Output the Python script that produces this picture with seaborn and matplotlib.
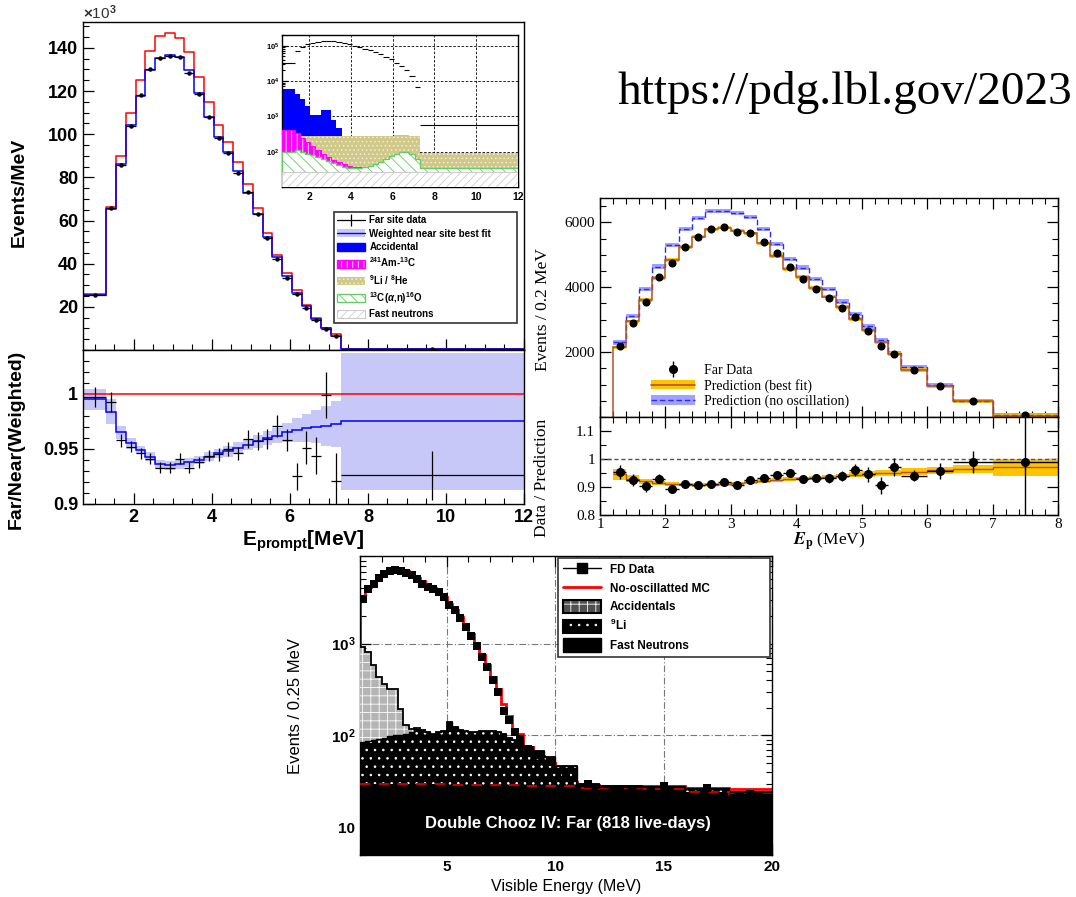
import matplotlib
matplotlib.use("Agg")
import matplotlib.pyplot as plt
import numpy as np
import seaborn as sns
from matplotlib.lines import Line2D
from matplotlib.patches import Patch
from matplotlib.ticker import MultipleLocator, LogLocator, NullFormatter

# ---------------- Daya Bay (top left) ----------------
db_edges = [0.7, 1.3, 1.55, 1.8, 2.05, 2.3, 2.55, 2.8, 3.05, 3.3, 3.55, 3.8, 4.05,
            4.3, 4.55, 4.8, 5.05, 5.3, 5.55, 5.8, 6.05, 6.3, 6.55, 6.8, 7.05, 7.3, 12.0]
# events / MeV in units of 10^3
db_far = [25.5, 66.0, 85.5, 104.0, 118.3, 130.3, 135.3, 136.3, 136.0, 128.5, 118.7, 107.8, 98.3,
          91.2, 82.2, 73.0, 62.8, 52.0, 42.3, 33.5, 26.0, 19.5, 14.0, 9.7, 6.3, 0.4]
db_near = [25.7, 65.2, 86.2, 104.3, 117.6, 129.6, 135.2, 136.8, 135.7, 129.6, 119.2, 108.1, 98.9,
           91.6, 82.8, 72.9, 62.9, 52.5, 43.0, 34.2, 26.6, 20.3, 14.2, 10.0, 6.5, 0.4]
db_noosc = [26.1, 66.4, 89.7, 110.0, 125.3, 138.6, 145.7, 146.7, 144.6, 138.0, 126.5, 115.0, 104.3,
            96.3, 87.0, 76.7, 65.7, 54.2, 44.2, 35.6, 28.0, 20.8, 14.6, 10.3, 7.3, 0.5]
# far / near ratio
db_ratio = [0.997, 0.993, 0.958, 0.952, 0.946, 0.941, 0.933, 0.933, 0.941, 0.933, 0.938, 0.944, 0.945,
            0.950, 0.946, 0.959, 0.957, 0.959, 0.971, 0.958, 0.925, 0.951, 0.944, 0.999, 0.921, 0.926]
db_ratio_err = [0.009, 0.009, 0.006, 0.005, 0.005, 0.005, 0.005, 0.005, 0.005, 0.005, 0.005, 0.005, 0.006,
                0.006, 0.006, 0.008, 0.008, 0.009, 0.010, 0.010, 0.012, 0.015, 0.017, 0.021, 0.025, 0.022]
db_pred_ratio = [0.995, 0.984, 0.965, 0.955, 0.949, 0.943, 0.936, 0.935, 0.936, 0.938, 0.940, 0.943, 0.946,
                 0.948, 0.951, 0.954, 0.957, 0.960, 0.962, 0.965, 0.967, 0.969, 0.970, 0.971, 0.973, 0.975]
db_pred_band = [0.010, 0.011, 0.006, 0.005, 0.004, 0.004, 0.004, 0.004, 0.004, 0.004, 0.004, 0.004, 0.004,
                0.005, 0.005, 0.005, 0.006, 0.006, 0.007, 0.009, 0.011, 0.013, 0.015, 0.018, 0.021, 0.062]
db_unity = 1.0

# inset (log scale) with backgrounds
inset_far = [3.2e4, 7.1e4, 9.0e4, 1.09e5, 1.2e5, 1.3e5, 1.38e5, 1.38e5, 1.35e5, 1.28e5, 1.19e5, 1.09e5, 1.0e5,
             9.0e4, 8.2e4, 7.5e4, 6.5e4, 5.7e4, 4.9e4, 4.2e4, 3.3e4, 2.7e4, 2.0e4, 1.4e4, 6.6e3, 5.8e2]
inset_acc = [5900, 4400, 3100, 1900, 1070, 1070, 1550, 1550, 800, 480, 275, 260, 250,
             10, 10, 10, 10, 10, 10, 10, 10, 10, 10, 10, 10, 10]
inset_li = [330, 330, 275, 275, 275, 275, 275, 275, 275, 275, 270, 270, 270,
            270, 270, 270, 270, 275, 280, 285, 290, 290, 290, 285, 280, 93]
inset_amc = [400, 330, 250, 190, 145, 110, 85, 70, 58, 50, 44, 40, 37,
             36, 35, 10, 10, 10, 10, 10, 10, 10, 10, 10, 10, 10]
inset_can = [100, 108, 100, 88, 80, 72, 62, 55, 48, 42, 38, 35, 34,
             34, 36, 40, 45, 52, 62, 75, 88, 100, 100, 85, 62, 35]
inset_fn = [26, 26, 26, 26, 26, 26, 26, 26, 26, 26, 26, 26, 26,
            26, 26, 26, 26, 26, 26, 26, 26, 26, 26, 26, 26, 26]
inset_floor = 10

# ---------------- RENO (right) ----------------
reno_edges = [1.2, 1.4, 1.6, 1.8, 2.0, 2.2, 2.4, 2.6, 2.8, 3.0, 3.2, 3.4, 3.6, 3.8, 4.0, 4.2,
              4.4, 4.6, 4.8, 5.0, 5.2, 5.4, 5.6, 6.0, 6.4, 7.0, 8.0]
reno_data = [2195, 2892, 3559, 4308, 4759, 5251, 5559, 5795, 5846, 5713, 5682, 5385, 5046,
             4636, 4256, 3949, 3662, 3354, 3067, 2656, 2174, 1938, 1456, 964, 482, 51]
reno_fit = [2144, 2944, 3610, 4277, 4841, 5231, 5559, 5785, 5836, 5744, 5662, 5354, 4964,
            4554, 4308, 3969, 3713, 3385, 3015, 2667, 2297, 1938, 1456, 944, 482, 45]
reno_noosc = [2297, 3118, 3938, 4636, 5303, 5785, 6123, 6349, 6349, 6297, 6154, 5785, 5333,
              4872, 4605, 4246, 3938, 3559, 3179, 2790, 2379, 1969, 1528, 995, 482, 48]
reno_fit_band = 55
reno_noosc_band = 65
reno_ratio = [0.953, 0.925, 0.902, 0.930, 0.894, 0.912, 0.906, 0.910, 0.918, 0.906, 0.925, 0.933, 0.943,
              0.949, 0.927, 0.931, 0.931, 0.939, 0.961, 0.945, 0.906, 0.971, 0.940, 0.957, 0.989, 0.989]
reno_ratio_err = [0.025, 0.020, 0.020, 0.015, 0.012, 0.010, 0.010, 0.010, 0.010, 0.010, 0.010, 0.012, 0.012,
                  0.012, 0.013, 0.014, 0.015, 0.018, 0.022, 0.027, 0.030, 0.033, 0.020, 0.028, 0.040, 0.200]
reno_fit_ratio = [0.945, 0.930, 0.920, 0.915, 0.910, 0.908, 0.907, 0.908, 0.910, 0.913, 0.917, 0.921, 0.925,
                  0.928, 0.931, 0.933, 0.936, 0.940, 0.943, 0.946, 0.949, 0.951, 0.955, 0.960, 0.965, 0.970]
reno_fit_ratio_band = [0.020, 0.012, 0.010, 0.008, 0.007, 0.006, 0.006, 0.006, 0.006, 0.006, 0.006, 0.006, 0.006,
                       0.006, 0.006, 0.007, 0.007, 0.008, 0.009, 0.010, 0.010, 0.011, 0.012, 0.013, 0.015, 0.030]
reno_unity = 1.0

# ---------------- Double Chooz (bottom) ----------------
dc_edges = [1.0, 1.25, 1.5, 1.75, 2.0, 2.25, 2.5, 2.75, 3.0, 3.25, 3.5, 3.75, 4.0, 4.25, 4.5, 4.75,
            5.0, 5.25, 5.5, 5.75, 6.0, 6.25, 6.5, 6.75, 7.0, 7.25, 7.5, 7.75, 8.0, 8.25, 8.5,
            9.0, 9.5, 10.0, 11.0, 12.0, 14.0, 16.0, 18.0, 20.0]
dc_data = [3100, 3980, 4500, 5250, 5800, 6200, 6350, 6200, 5900, 5560, 5000, 4500, 4150, 3980, 3650,
           3240, 2660, 2300, 1910, 1520, 1210, 940, 715, 557, 400, 300, 187, 148, 110, 92,
           72, 62, 52, 35, 30, 26, 28, 27, 23]
dc_mc = [3200, 4150, 4700, 5400, 6000, 6400, 6600, 6450, 6150, 5750, 5250, 4750, 4300, 4000, 3650,
         3200, 2700, 2350, 1950, 1580, 1260, 990, 760, 590, 430, 320, 220, 165, 115, 105,
         75, 60, 50, 31, 29, 28, 28, 27, 26]
# stacked tops: fast neutrons, + 9Li, + accidentals
dc_fn = [30, 30, 30, 30, 30, 30, 30, 30, 30, 30, 30, 30, 30, 30, 30, 30,
         29, 29, 29, 29, 29, 29, 29, 29, 29, 29, 29, 29, 29, 29,
         28, 28, 28, 28, 27, 26, 26, 24, 23]
dc_li = [85, 88, 90, 92, 95, 98, 100, 100, 105, 110, 118, 115, 108, 105, 110,
         113, 140, 125, 115, 112, 110, 110, 113, 113, 112, 108, 105, 95, 90, 88,
         75, 67, 58, 47, 30, 28, 27.5, 26, 24]
dc_acc = [920, 810, 580, 430, 365, 322, 322, 195, 130, 118, 122, 115, 108, 105, 110,
          113, 140, 125, 115, 112, 110, 110, 113, 113, 112, 108, 105, 95, 90, 88,
          75, 67, 58, 47, 30, 28, 27.5, 26, 24]
dc_floor = 1.0

sns.set_style("ticks", {"xtick.direction": "in", "ytick.direction": "in",
                        "axes.edgecolor": "black", "text.color": "black",
                        "axes.labelcolor": "black", "xtick.color": "black", "ytick.color": "black"})
plt.rcParams.update({
    "font.family": ["Liberation Sans", "DejaVu Sans"],
    "font.weight": "bold",
    "axes.labelweight": "bold",
    "mathtext.fontset": "custom",
    "mathtext.rm": "Liberation Sans",
    "mathtext.bf": "Liberation Sans:bold",
    "mathtext.it": "Liberation Sans:italic",
    "hatch.linewidth": 0.6,
    "axes.linewidth": 1.0,
    "xtick.major.size": 8, "ytick.major.size": 8,
    "xtick.minor.size": 4, "ytick.minor.size": 4,
    "xtick.major.width": 0.9, "ytick.major.width": 0.9,
    "xtick.minor.width": 0.8, "ytick.minor.width": 0.8,
})

W, H = 1076, 897


def box(left, top, right, bottom):
    return [left / W, 1 - bottom / H, (right - left) / W, (bottom - top) / H]


def bin_centers(edges):
    e = np.asarray(edges, dtype=float)
    return (e[:-1] + e[1:]) / 2, (e[1:] - e[:-1]) / 2


fig = plt.figure(figsize=(W / 100, H / 100), dpi=100)

# ======== Daya Bay upper ========
ax = fig.add_axes(box(83, 22, 524, 350))
x, hw = bin_centers(db_edges)
sns.histplot(x=x, weights=db_noosc, bins=db_edges, element="step", fill=False,
             color="#ff0000", linewidth=1.1, ax=ax)
sns.histplot(x=x, weights=db_near, bins=db_edges, element="step", fill=False,
             color="#0000ff", linewidth=1.1, ax=ax)
ax.errorbar(x, db_far, xerr=hw, fmt="o", ms=2.2, color="k", elinewidth=0.9, capsize=0, zorder=4)
ax.set_xlim(0.7, 12)
ax.set_ylim(0, 152)
ax.set_yticks([20, 40, 60, 80, 100, 120, 140])
ax.yaxis.set_minor_locator(MultipleLocator(5))
ax.xaxis.set_major_locator(MultipleLocator(2))
ax.xaxis.set_minor_locator(MultipleLocator(0.5))
ax.tick_params(labelbottom=False, labelsize=13)
ax.set_xlabel("")
ax.set_ylabel("Events/MeV", fontsize=14)
ax.yaxis.set_label_coords(-0.125, 0.48)
fig.text(83 / W, 1 - 13 / H, r"$\times$10$^{3}$", fontsize=11, fontweight="normal",
         color="#333333", ha="left", va="center")

db_handles = [
    Line2D([], [], color="k", lw=0.9, marker="|", ms=8, mew=0.9),
    (Patch(facecolor="#c8c8f8", edgecolor="none"), Line2D([], [], color="#0000ff", lw=1)),
    Patch(facecolor="#0000ff", edgecolor="#0000ff"),
    (Patch(facecolor="#ff00ff", edgecolor="white", hatch="|||", lw=0),
     Patch(facecolor="none", edgecolor="#ff00ff", lw=1)),
    Patch(facecolor="#d0c888", edgecolor="#f2eed8", hatch="....", lw=0),
    Patch(facecolor="white", edgecolor="#66cc66", hatch="\\\\\\", lw=1),
    Patch(facecolor="white", edgecolor="#cccccc", hatch="////", lw=0.8),
]
db_labels = ["Far site data", "Weighted near site best fit", "Accidental",
             r"$^{\mathbf{241}}$Am-$^{\mathbf{13}}$C", r"$^{\mathbf{9}}$Li / $^{\mathbf{8}}$He",
             r"$^{\mathbf{13}}$C($\alpha$,n)$^{\mathbf{16}}$O", "Fast neutrons"]
leg = ax.legend(db_handles, db_labels, loc="upper left",
                bbox_to_anchor=(334 / W, 1 - 320 / H, 183 / W, 108 / H), bbox_transform=fig.transFigure,
                mode="expand", frameon=True, fancybox=False, edgecolor="#333333", framealpha=1,
                borderpad=0.35, labelspacing=0.35, handlelength=2.8, handleheight=0.9,
                handletextpad=0.5, borderaxespad=0, prop={"size": 7, "weight": "bold"})
leg.get_frame().set_linewidth(1.2)

# ======== Daya Bay inset ========
axi = fig.add_axes(box(282, 35, 518, 187))
axi.set_yscale("log")
axi.stairs(inset_acc, db_edges, baseline=inset_floor, fill=True, facecolor="#0000ff", lw=0, zorder=2)
axi.stairs(inset_li, db_edges, baseline=inset_floor, fill=True, facecolor="#d0c888",
           edgecolor="#f2eed8", hatch="....", lw=0, zorder=3)
axi.stairs(inset_amc, db_edges, baseline=inset_floor, fill=True, facecolor="#ff00ff",
           edgecolor="white", hatch="|||", lw=0, zorder=4)
axi.stairs(inset_amc, db_edges, baseline=None, color="#ff00ff", lw=0.8, zorder=4)
axi.stairs(inset_can, db_edges, baseline=inset_floor, fill=True, facecolor="white",
           edgecolor="#66cc66", hatch="\\\\\\", lw=1, zorder=5)
axi.stairs(inset_fn, db_edges, baseline=inset_floor, fill=True, facecolor="white",
           edgecolor="#cccccc", hatch="////", lw=0.8, zorder=6)
axi.errorbar(x, inset_far, xerr=hw, fmt="none", ecolor="k", elinewidth=0.8, zorder=7)
axi.set_xlim(0.7, 12)
axi.set_ylim(10, 2e5)
axi.xaxis.set_major_locator(MultipleLocator(2))
axi.xaxis.set_minor_locator(MultipleLocator(0.5))
axi.set_yticks([1e2, 1e3, 1e4, 1e5], [r"$\mathbf{10^{2}}$", r"$\mathbf{10^{3}}$",
                                      r"$\mathbf{10^{4}}$", r"$\mathbf{10^{5}}$"])
axi.yaxis.set_minor_formatter(NullFormatter())
axi.tick_params(axis="x", labelsize=7.5, length=4)
axi.tick_params(axis="x", which="minor", length=2)
axi.tick_params(axis="y", labelsize=5.5, length=4, pad=2)
axi.tick_params(axis="y", which="minor", length=2)
axi.grid(True, which="major", color="k", ls=(0, (3, 2)), lw=0.6)
axi.set_axisbelow(True)

# ======== Daya Bay ratio ========
ax2 = fig.add_axes(box(83, 350, 524, 504))
lo = np.subtract(db_pred_ratio, db_pred_band)
hi = np.add(db_pred_ratio, db_pred_band)
ax2.stairs(hi, db_edges, baseline=lo, fill=True, color="#c8c8f8", lw=0)
ax2.stairs(db_pred_ratio, db_edges, baseline=None, color="#0000ff", lw=1.1)
ax2.axhline(db_unity, color="#ff0000", lw=1.1)
ax2.errorbar(x, db_ratio, xerr=hw, yerr=db_ratio_err, fmt="none", ecolor="k", elinewidth=0.9)
ax2.set_xlim(0.7, 12)
ax2.set_ylim(0.9, 1.04)
ax2.set_yticks([0.9, 0.95, 1.0], ["0.9", "0.95", "1"])
ax2.yaxis.set_minor_locator(MultipleLocator(0.01))
ax2.xaxis.set_major_locator(MultipleLocator(2))
ax2.xaxis.set_minor_locator(MultipleLocator(0.5))
ax2.tick_params(labelsize=13)
ax2.set_xlabel(r"E$_{\mathbf{prompt}}$[MeV]", fontsize=15, labelpad=2)
ax2.set_ylabel("Far/Near(Weighted)", fontsize=14)
ax2.yaxis.set_label_coords(-0.131, 0.42)

# ======== RENO upper ========
serif = {"family": "Liberation Serif", "weight": "normal"}
ax3 = fig.add_axes(box(600, 198, 1058, 417))
rx, rhw = bin_centers(reno_edges)
ax3.stairs(np.add(reno_noosc, reno_noosc_band), reno_edges,
           baseline=np.subtract(reno_noosc, reno_noosc_band), fill=True, color="#a0a0ff", lw=0)
ax3.stairs(np.add(reno_fit, reno_fit_band), reno_edges,
           baseline=np.subtract(reno_fit, reno_fit_band), fill=True, color="#ffc400", lw=0)
ax3.stairs(reno_noosc, reno_edges, baseline=None, color="#2a2aff", lw=1.0, ls=(0, (4, 2)))
ax3.stairs(reno_fit, reno_edges, baseline=0, color="#b5521f", lw=1.1)
sns.scatterplot(x=rx, y=reno_data, color="k", s=34, linewidth=0, ax=ax3, zorder=5)
ax3.set_xlim(1, 8)
ax3.set_ylim(0, 6750)
ax3.set_yticks([2000, 4000, 6000], ["2000", "4000", "6000"], fontsize=11, **serif)
ax3.yaxis.set_minor_locator(MultipleLocator(500))
ax3.xaxis.set_major_locator(MultipleLocator(1))
ax3.xaxis.set_minor_locator(MultipleLocator(0.2))
ax3.tick_params(which="both", top=True, right=True, labelbottom=False)
ax3.set_xlabel("")
ax3.set_ylabel("Events / 0.2 MeV", fontsize=12.5, fontfamily="Liberation Serif", fontweight="normal")
ax3.yaxis.set_label_coords(-0.107, 0.49)

reno_handles = [
    (Line2D([], [], color="k", marker="|", ms=11, mew=1, lw=0),
     Line2D([], [], color="k", marker="o", ms=5.5, lw=0)),
    (Patch(facecolor="#ffc400", edgecolor="none"), Line2D([], [], color="#b5521f", lw=1.2)),
    (Patch(facecolor="#a0a0ff", edgecolor="none"), Line2D([], [], color="#2a2aff", lw=1, ls=(0, (4, 2)))),
]
ax3.legend(reno_handles, ["Far Data", "Prediction (best fit)", "Prediction (no oscillation)"],
           loc="upper left", bbox_to_anchor=(651 / W, 1 - 364 / H), bbox_transform=fig.transFigure,
           frameon=False, borderpad=0, borderaxespad=0, labelspacing=0.12, handlelength=3.2,
           handleheight=0.7, handletextpad=0.6,
           prop={"family": "Liberation Serif", "weight": "normal", "size": 10})

# ======== RENO ratio ========
ax4 = fig.add_axes(box(600, 417, 1058, 515))
ax4.stairs(np.add(reno_fit_ratio, reno_fit_ratio_band), reno_edges,
           baseline=np.subtract(reno_fit_ratio, reno_fit_ratio_band), fill=True, color="#ffc400", lw=0)
ax4.stairs(reno_fit_ratio, reno_edges, baseline=None, color="#b5521f", lw=1.0)
ax4.axhline(reno_unity, color="#555555", lw=1.0, ls=(0, (3, 2)))
ax4.errorbar(rx, reno_ratio, xerr=rhw, yerr=reno_ratio_err, fmt="o", ms=5.5, color="k",
             elinewidth=1.0, capsize=0, zorder=5)
ax4.set_xlim(1, 8)
ax4.set_ylim(0.8, 1.15)
ax4.set_yticks([0.8, 0.9, 1.0, 1.1], ["0.8", "0.9", "1", "1.1"], fontsize=11, **serif)
ax4.yaxis.set_minor_locator(MultipleLocator(0.05))
ax4.set_xticks([1, 2, 3, 4, 5, 6, 7, 8], ["1", "2", "3", "4", "5", "6", "7", "8"], fontsize=11, **serif)
ax4.xaxis.set_minor_locator(MultipleLocator(0.2))
ax4.tick_params(which="both", top=True, right=True)
ax4.tick_params(axis="x", pad=2)
ax4.set_xlabel(r"$E_{\mathrm{p}}$ (MeV)", fontsize=12.5, fontfamily="Liberation Serif",
               fontweight="normal", math_fontfamily="stix", labelpad=0)
ax4.set_ylabel("Data / Prediction", fontsize=12.5, fontfamily="Liberation Serif", fontweight="normal")
ax4.yaxis.set_label_coords(-0.109, 0.38)

# ======== Double Chooz ========
ax5 = fig.add_axes(box(360, 556, 772, 855))
ax5.set_yscale("log")
dx, dhw = bin_centers(dc_edges)
ax5.grid(True, which="major", color="#777777", ls=(0, (6, 2, 1, 2)), lw=0.8)
ax5.set_axisbelow(True)
ax5.stairs(dc_mc, dc_edges, baseline=dc_floor, color="#ff0000", lw=2.0, zorder=2)
ax5.stairs(dc_acc, dc_edges, baseline=dc_li, fill=True, facecolor="#b4b4b4", edgecolor="white",
           hatch="++", lw=0, zorder=3)
ax5.stairs(dc_li, dc_edges, baseline=dc_fn, fill=True, facecolor="black", edgecolor="white",
           hatch="..", lw=0, zorder=3)
ax5.stairs(dc_fn, dc_edges, baseline=dc_floor, fill=True, facecolor="black", lw=0, zorder=3)
ax5.stairs(dc_acc, dc_edges, baseline=None, color="black", lw=1.3, zorder=3.5)
ax5.stairs(dc_li, dc_edges, baseline=None, color="black", lw=1.0, zorder=3.5)
ax5.stairs(dc_fn, dc_edges, baseline=None, color="#c00000", lw=1.5, ls=(0, (5, 4)), zorder=3.6)
ax5.errorbar(dx, dc_data, xerr=dhw, fmt="none", ecolor="k", elinewidth=1.0, zorder=5)
sns.scatterplot(x=dx, y=dc_data, marker="s", color="k", s=30, linewidth=0, ax=ax5, zorder=6)
ax5.set_xlim(1, 20)
ax5.set_ylim(5, 9000)
ax5.set_xticks([5, 10, 15, 20], ["5", "10", "15", "20"], fontsize=11)
ax5.xaxis.set_minor_locator(MultipleLocator(1))
ax5.set_yticks([10, 100, 1000], ["10", r"$\mathbf{10^{2}}$", r"$\mathbf{10^{3}}$"], fontsize=11)
ax5.yaxis.set_minor_locator(LogLocator(base=10, subs=np.arange(2, 10), numticks=20))
ax5.yaxis.set_minor_formatter(NullFormatter())
ax5.tick_params(which="both", top=True, right=True)
ax5.set_xlabel("Visible Energy (MeV)", fontsize=11.5, fontweight="normal", labelpad=4)
ax5.set_ylabel("Events / 0.25 MeV", fontsize=12, fontweight="normal")
ax5.yaxis.set_label_coords(-0.138, 0.5)
ax5.text(0.505, 0.107, "Double Chooz IV: Far (818 live-days)", transform=ax5.transAxes,
         color="white", fontsize=12, fontweight="bold", ha="center", va="center", zorder=10)

dc_handles = [
    Line2D([], [], color="k", marker="s", ms=7, lw=1),
    Line2D([], [], color="#ff0000", lw=2),
    (Patch(facecolor="#505050", edgecolor="white", hatch="++", lw=0),
     Patch(facecolor="none", edgecolor="k", lw=1.5)),
    (Patch(facecolor="black", edgecolor="white", hatch="..", lw=0),
     Patch(facecolor="none", edgecolor="k", lw=1.5)),
    Patch(facecolor="black", edgecolor="black"),
]
dc_labels = ["FD Data", "No-oscillatted MC", "Accidentals", r"$^{\mathbf{9}}$Li", "Fast Neutrons"]
leg5 = ax5.legend(dc_handles, dc_labels, loc="upper left",
                  bbox_to_anchor=(0.4806, 0.5, 0.5146, 0.4933), mode="expand",
                  frameon=True, fancybox=False, edgecolor="#333333", framealpha=1,
                  borderpad=0.4, labelspacing=0.4, handlelength=3.2, handleheight=1.4,
                  handletextpad=0.8, borderaxespad=0, prop={"size": 8.5, "weight": "bold"})
leg5.get_frame().set_linewidth(1.2)

# ======== source URL ========
fig.text(617 / W, 1 - 104 / H, "https://pdg.lbl.gov/2023", fontsize=34,
         fontfamily="Liberation Serif", fontweight="normal", ha="left", va="baseline")

fig.savefig("out.png", dpi=100)
